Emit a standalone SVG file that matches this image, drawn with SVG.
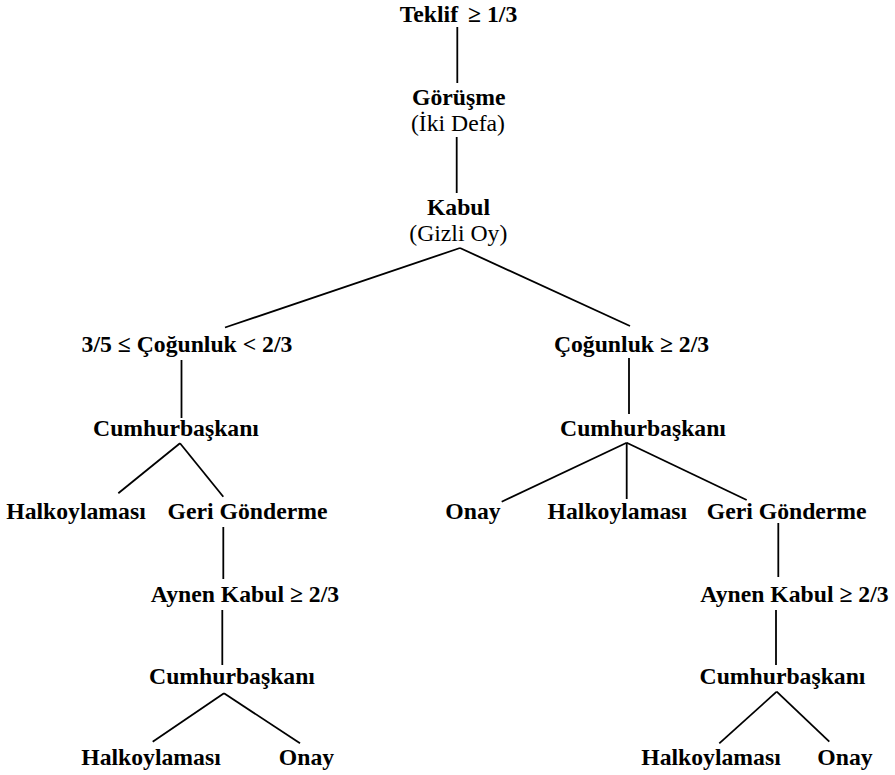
<svg xmlns="http://www.w3.org/2000/svg" width="895" height="775" viewBox="0 0 895 775">
<style>
text{font-family:"Liberation Serif","Times New Roman",serif;font-size:23.7px;text-anchor:middle;fill:#000}
.b{font-weight:bold}
.n{font-weight:normal}
#connectors line{stroke:#000;stroke-width:1.8;stroke-linecap:butt}
</style>
<rect width="895" height="775" fill="#fff"/>
<g id="connectors">
<line x1="457.3" y1="27" x2="457.3" y2="83"/>
<line x1="456.7" y1="137" x2="456.7" y2="193"/>
<line x1="460" y1="248" x2="225" y2="327.5"/>
<line x1="460" y1="248" x2="630" y2="326"/>
<line x1="181.5" y1="360" x2="181.5" y2="418"/>
<line x1="629" y1="358" x2="629" y2="414"/>
<line x1="180" y1="443.3" x2="118.3" y2="493.3"/>
<line x1="180" y1="443.3" x2="223.3" y2="496.7"/>
<line x1="626.7" y1="442.7" x2="501.7" y2="501.7"/>
<line x1="626.7" y1="442.7" x2="626.7" y2="499"/>
<line x1="626.7" y1="442.7" x2="746.7" y2="500"/>
<line x1="223.3" y1="527" x2="223.3" y2="579"/>
<line x1="778.3" y1="523" x2="778.3" y2="577"/>
<line x1="222.3" y1="610" x2="222.3" y2="665"/>
<line x1="776" y1="610" x2="776" y2="665"/>
<line x1="224" y1="693.3" x2="152.7" y2="741.7"/>
<line x1="224" y1="693.3" x2="300" y2="743.3"/>
<line x1="776.7" y1="691.7" x2="719.3" y2="743.3"/>
<line x1="776.7" y1="691.7" x2="829.3" y2="741.7"/>
</g>
<g id="teklif"><text class="b" x="458.5" y="22">Teklif<tspan dx="10">≥ 1/3</tspan></text></g>
<g id="gorusme"><text class="b" x="458.7" y="105">Görüşme</text><text class="n" x="458" y="131">(İki Defa)</text></g>
<g id="kabul"><text class="b" x="458.5" y="215">Kabul</text><text class="n" x="458.3" y="241">(Gizli Oy)</text></g>
<g id="cogunluk-35"><text class="b" x="187" y="352">3/5 ≤ Çoğunluk &lt; 2/3</text></g>
<g id="cogunluk-23"><text class="b" x="631.5" y="352">Çoğunluk ≥ 2/3</text></g>
<g id="cb-l1"><text class="b" x="176" y="436">Cumhurbaşkanı</text></g>
<g id="cb-r1"><text class="b" x="643" y="436">Cumhurbaşkanı</text></g>
<g id="halk-l1"><text class="b" x="76" y="519">Halkoylaması</text></g>
<g id="geri-l"><text class="b" x="247.5" y="519">Geri Gönderme</text></g>
<g id="onay-r1"><text class="b" x="473" y="519">Onay</text></g>
<g id="halk-r1"><text class="b" x="617.3" y="519">Halkoylaması</text></g>
<g id="geri-r"><text class="b" x="786.7" y="519">Geri Gönderme</text></g>
<g id="aynen-l"><text class="b" x="245" y="602">Aynen Kabul ≥ 2/3</text></g>
<g id="aynen-r"><text class="b" x="794.5" y="602">Aynen Kabul ≥ 2/3</text></g>
<g id="cb-l2"><text class="b" x="232" y="684">Cumhurbaşkanı</text></g>
<g id="cb-r2"><text class="b" x="782.5" y="684">Cumhurbaşkanı</text></g>
<g id="halk-l2"><text class="b" x="151" y="765">Halkoylaması</text></g>
<g id="onay-l2"><text class="b" x="306.5" y="765">Onay</text></g>
<g id="halk-r2"><text class="b" x="711" y="765">Halkoylaması</text></g>
<g id="onay-r2"><text class="b" x="845" y="765">Onay</text></g>
</svg>
